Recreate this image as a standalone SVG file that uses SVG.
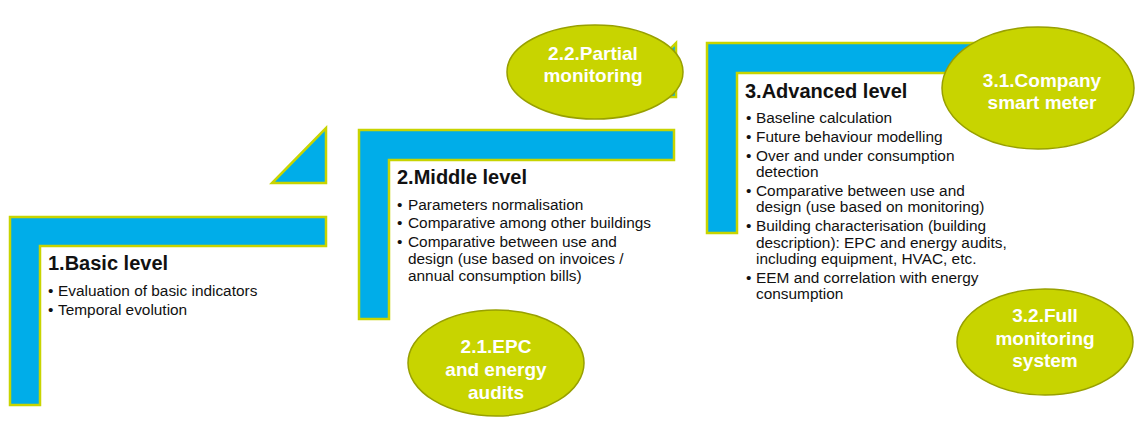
<svg xmlns="http://www.w3.org/2000/svg" width="1135" height="421" viewBox="0 0 1135 421">
<style>
.frame{fill:#00ADE9;stroke:#C8D400;stroke-width:2.5;stroke-linejoin:miter}
.oval{fill:#C8D400;stroke:#98A000;stroke-width:1.5}
.title{font-family:"Liberation Sans",Arial,sans-serif;font-weight:bold;font-size:20px;fill:#111}
.body{font-family:"Liberation Sans",Arial,sans-serif;font-size:15.4px;fill:#111}
.olab{font-family:"Liberation Sans",Arial,sans-serif;font-weight:bold;font-size:19px;fill:#fff;text-anchor:middle}
</style>
<rect width="1135" height="421" fill="#fff"/>
<g id="level1">
<path class="frame" d="M10,217 H326 V246 H40 V405 H10 Z"/>
<path class="frame" d="M326,128 V183 H272 Z"/>
<text class="title" x="48" y="270">1.Basic level</text>
<text class="body"><tspan x="48" y="296">•</tspan><tspan x="58" y="296">Evaluation of basic indicators</tspan><tspan x="48" y="315">•</tspan><tspan x="58" y="315">Temporal evolution</tspan></text>
</g>
<g id="level2">
<path class="frame" d="M359,130 H674 V160 H389 V319 H359 Z"/>
<path class="frame" d="M676,43 V97 H622 Z"/>
<text class="title" x="397" y="184">2.Middle level</text>
<text class="body"><tspan x="397" y="210">•</tspan><tspan x="408" y="210">Parameters normalisation</tspan><tspan x="397" y="228">•</tspan><tspan x="408" y="228">Comparative among other buildings</tspan><tspan x="397" y="247">•</tspan><tspan x="408" y="247">Comparative between use and</tspan><tspan x="408" y="264">design (use based on invoices /</tspan><tspan x="408" y="281">annual consumption bills)</tspan></text>
</g>
<g id="level3">
<path class="frame" d="M707,43 H1023 V73 H737 V233 H707 Z"/>
<text class="title" x="745" y="98">3.Advanced level</text>
<text class="body"><tspan x="746" y="123">•</tspan><tspan x="756" y="123">Baseline calculation</tspan><tspan x="746" y="142">•</tspan><tspan x="756" y="142">Future behaviour modelling</tspan><tspan x="746" y="161">•</tspan><tspan x="756" y="161">Over and under consumption</tspan><tspan x="756" y="177">detection</tspan><tspan x="746" y="196">•</tspan><tspan x="756" y="196">Comparative between use and</tspan><tspan x="756" y="212">design (use based on monitoring)</tspan><tspan x="746" y="231">•</tspan><tspan x="756" y="231">Building characterisation (building</tspan><tspan x="756" y="248">description): EPC and energy audits,</tspan><tspan x="756" y="264">including equipment, HVAC, etc.</tspan><tspan x="746" y="283">•</tspan><tspan x="756" y="283">EEM and correlation with energy</tspan><tspan x="756" y="299">consumption</tspan></text>
</g>
<g id="n22">
<ellipse class="oval" cx="595" cy="72" rx="88" ry="47"/>
<text class="olab"><tspan x="593" y="60">2.2.Partial</tspan><tspan x="593" y="82">monitoring</tspan></text>
</g>
<g id="n21">
<ellipse class="oval" cx="496" cy="363" rx="88" ry="53"/>
<text class="olab"><tspan x="496" y="353">2.1.EPC</tspan><tspan x="496" y="376">and energy</tspan><tspan x="496" y="399">audits</tspan></text>
</g>
<g id="n31">
<ellipse class="oval" cx="1038" cy="88" rx="96" ry="61"/>
<text class="olab"><tspan x="1042" y="87">3.1.Company</tspan><tspan x="1042" y="109">smart meter</tspan></text>
</g>
<g id="n32">
<ellipse class="oval" cx="1045" cy="342" rx="88" ry="53"/>
<text class="olab"><tspan x="1045" y="322">3.2.Full</tspan><tspan x="1045" y="345">monitoring</tspan><tspan x="1045" y="367">system</tspan></text>
</g>
<g id="connectors"/>
</svg>
